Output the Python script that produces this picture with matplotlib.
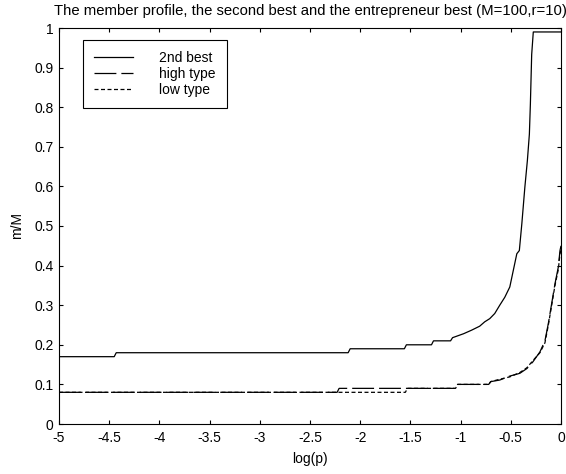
import matplotlib
matplotlib.use('Agg')
import matplotlib.pyplot as plt

plt.rcParams['font.family'] = ['Liberation Sans', 'DejaVu Sans']

# second best profile
x_second = [-5, -4.45, -4.43, -2.12, -2.10, -1.56, -1.54, -1.29, -1.27, -1.10, -1.08,
            -0.97, -0.89, -0.81, -0.76, -0.71, -0.66, -0.61, -0.56, -0.51, -0.475,
            -0.44, -0.415, -0.39, -0.36, -0.335, -0.315, -0.305, -0.292, -0.276, 0]
y_second = [0.17, 0.17, 0.18, 0.18, 0.19, 0.19, 0.20, 0.20, 0.21, 0.21, 0.218,
            0.228, 0.237, 0.247, 0.258, 0.266, 0.279, 0.30, 0.32, 0.346, 0.388,
            0.43, 0.438, 0.506, 0.598, 0.665, 0.732, 0.808, 0.933, 0.99, 0.99]

# entrepreneur best, high type
x_high = [-5, -2.23, -2.21, -1.05, -1.03, -0.72, -0.70, -0.61, -0.51, -0.41, -0.34,
          -0.28, -0.21, -0.16, -0.126, -0.093, -0.06, -0.027, -0.01, 0]
y_high = [0.08, 0.08, 0.09, 0.09, 0.10, 0.10, 0.107, 0.111, 0.121, 0.128, 0.14,
          0.157, 0.182, 0.21, 0.254, 0.304, 0.354, 0.396, 0.438, 0.45]

# entrepreneur best, low type
x_low = [-5, -1.55, -1.53, -1.05, -1.03, -0.72, -0.70, -0.61, -0.51, -0.41, -0.34,
         -0.28, -0.21, -0.16, -0.126, -0.093, -0.06, -0.027, -0.01, 0]
y_low = [0.08, 0.08, 0.09, 0.09, 0.10, 0.10, 0.107, 0.113, 0.119, 0.13, 0.142,
         0.16, 0.18, 0.205, 0.25, 0.30, 0.35, 0.39, 0.43, 0.44]

x_ticks = [-5, -4.5, -4, -3.5, -3, -2.5, -2, -1.5, -1, -0.5, 0]
x_ticklabels = ['-5', '-4.5', '-4', '-3.5', '-3', '-2.5', '-2', '-1.5', '-1', '-0.5', '0']
y_ticks = [0, 0.1, 0.2, 0.3, 0.4, 0.5, 0.6, 0.7, 0.8, 0.9, 1]
y_ticklabels = ['0', '0.1', '0.2', '0.3', '0.4', '0.5', '0.6', '0.7', '0.8', '0.9', '1']

FS = 10

fig = plt.figure(figsize=(5.66, 4.74), dpi=100, facecolor='white')
ax = fig.add_axes([59 / 566, 1 - 424 / 474, 502 / 566, 396 / 474])

ax.plot(x_second, y_second, color='black', lw=0.9, label='2nd best')
ax.plot(x_high, y_high, color='black', lw=0.9, dashes=(17.5, 4), label='high type')
ax.plot(x_low, y_low, color='black', lw=0.9, dashes=(3.2, 2), label='low type')

ax.set_xlim(-5, 0)
ax.set_ylim(0, 1)
ax.set_xticks(x_ticks)
ax.set_xticklabels(x_ticklabels)
ax.set_yticks(y_ticks)
ax.set_yticklabels(y_ticklabels)
ax.tick_params(direction='in', length=3, width=0.8, top=True, right=True,
               labelsize=FS, pad=4)
ax.tick_params(axis='x', pad=5)
for spine in ax.spines.values():
    spine.set_linewidth(0.8)

ax.set_xlabel('log(p)', fontsize=FS, labelpad=5)
ax.set_ylabel('m/M', fontsize=FS, labelpad=7)
ax.set_title('The member profile, the second best and the entrepreneur best (M=100,r=10)',
             fontsize=10.7, pad=9)

leg = ax.legend(loc='upper left', bbox_to_anchor=(24 / 502, (424 - 40) / 396),
                borderaxespad=0, fontsize=FS, fancybox=False, framealpha=1,
                edgecolor='black', handlelength=2.8, handletextpad=1.9,
                borderpad=0.8, labelspacing=0.15)
leg.get_frame().set_linewidth(0.8)

plt.savefig('out.png', dpi=100, facecolor='white')
